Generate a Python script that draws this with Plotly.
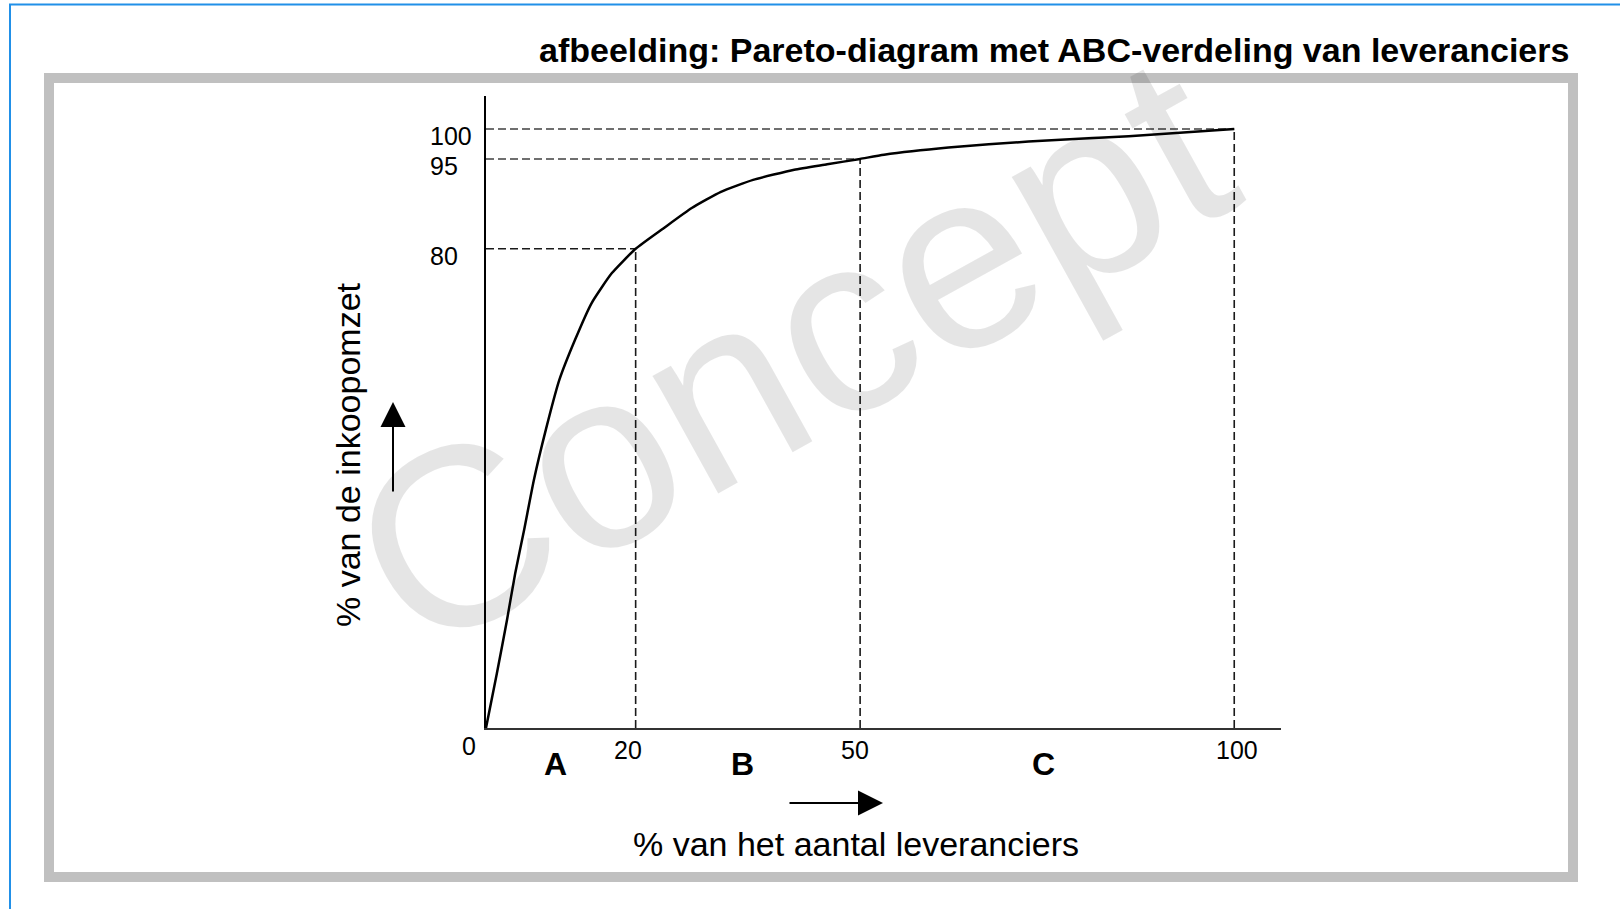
import plotly.graph_objects as go

# cumulative % of suppliers vs cumulative % of purchase turnover
suppliers_pct = [0, 1.45, 2.8, 3.9, 5.1, 6.4, 8.0, 9.8, 11.9, 14.1, 16.8, 20,
                 23.7, 27.5, 31.4, 35.7, 41.2, 45.6, 50, 53.2, 61.8, 72.5, 85.9, 100]
turnover_pct = [0, 9.1, 18.0, 25.8, 33.1, 41.4, 49.8, 58.1, 64.8, 70.9, 75.9, 80,
                83.4, 86.8, 89.5, 91.5, 93.2, 94.1, 95, 95.7, 96.9, 97.9, 98.8, 100]

# ABC class boundaries
class_x = [20, 50, 100]
class_y = [80, 95, 100]
class_names = ["A", "B", "C"]
class_label_x = [9.3, 34.3, 74.5]

x_ticks = [0, 20, 50, 100]
y_ticks = [100, 95, 80]

title = "afbeelding: Pareto-diagram met ABC-verdeling van leveranciers"
x_title = "% van het aantal leveranciers"
y_title = "% van de inkoopomzet"
watermark = "Concept"

W, H = 1620, 909
L, R, T, B = 486, 339, 96, 181
FONT = "Arial, Liberation Sans, sans-serif"


def px(x):
    return (x - L) / (W - L - R)


def py(y):
    return (H - B - y) / (H - T - B)


fig = go.Figure()

# guide lines at the class boundaries
h_colors = ["#1a1a1a", "#6f6f6f", "#6f6f6f"]
h_widths = [1.5, 2, 2]
for bx, by, hc, hw in zip(class_x, class_y, h_colors, h_widths):
    fig.add_trace(go.Scatter(x=[0, bx], y=[by, by], mode="lines",
                             line=dict(color=hc, width=hw, dash="8px,4px")))
    fig.add_trace(go.Scatter(x=[bx, bx], y=[0, by], mode="lines",
                             line=dict(color="#1a1a1a", width=1.6, dash="8px,4px")))

# Pareto curve
fig.add_trace(go.Scatter(x=suppliers_pct, y=turnover_pct, mode="lines",
                         line=dict(color="black", width=2.5, shape="spline", smoothing=0.5)))

ann = []

# watermark (semi-transparent so the lines show through)
ann.append(dict(text=watermark, xref="paper", yref="paper", x=px(790), y=py(352),
                showarrow=False, textangle=-29,
                font=dict(size=255, color="rgba(0,0,0,0.1)", family=FONT)))

ann.append(dict(text="<b>" + title + "</b>", xref="paper", yref="paper",
                x=px(1571), y=py(50), xanchor="right", yanchor="middle", showarrow=False,
                font=dict(size=34, color="black", family=FONT)))

for v in y_ticks:
    ann.append(dict(text=str(v), xref="paper", yref="y", x=0, y=v, xshift=-58,
                    yshift=-7, xanchor="left", yanchor="middle", showarrow=False,
                    font=dict(size=25)))

# pixel offsets of the x tick labels relative to their values
x_tick_shift = {0: (-17, -18), 20: (-8, -22), 50: (-5, -22), 100: (3, -22)}
for v in x_ticks:
    xs, ys = x_tick_shift[v]
    ann.append(dict(text=str(v), xref="x", yref="paper", x=v, y=0, xshift=xs, yshift=ys,
                    xanchor="center", yanchor="middle", showarrow=False,
                    font=dict(size=25)))

for name, lx in zip(class_names, class_label_x):
    ann.append(dict(text="<b>" + name + "</b>", xref="x", yref="paper", x=lx, y=0,
                    yshift=-36, xanchor="center", yanchor="middle", showarrow=False,
                    font=dict(size=32)))

ann.append(dict(text=x_title, xref="paper", yref="paper", x=px(856), y=py(844),
                xanchor="center", yanchor="middle", showarrow=False, font=dict(size=34)))
ann.append(dict(text=y_title, xref="paper", yref="paper", x=px(348), y=py(455),
                xanchor="center", yanchor="middle", showarrow=False, textangle=-90,
                font=dict(size=34)))

# direction arrows
ann.append(dict(text="", xref="paper", yref="paper", x=px(883), y=py(803),
                ax=-95, ay=0, showarrow=True, arrowhead=2, arrowsize=2.5, arrowwidth=2,
                arrowcolor="black"))
ann.append(dict(text="", xref="paper", yref="paper", x=px(393), y=py(402),
                ax=0, ay=91, showarrow=True, arrowhead=2, arrowsize=2.5, arrowwidth=2,
                arrowcolor="black"))

shapes = [
    # blue page frame
    dict(type="rect", xref="paper", yref="paper", x0=px(10), x1=px(1640),
         y0=py(4.5), y1=py(930), line=dict(color="#2190e8", width=2)),
    # grey figure frame
    dict(type="rect", xref="paper", yref="paper", x0=px(49), x1=px(1573),
         y0=py(78), y1=py(877), line=dict(color="#c0c0c0", width=10)),
]

fig.update_layout(
    width=W, height=H,
    margin=dict(l=L, r=R, t=T, b=B),
    paper_bgcolor="white", plot_bgcolor="white",
    font=dict(family=FONT, color="black"),
    showlegend=False,
    annotations=ann,
    shapes=shapes,
    xaxis=dict(range=[0, 106.25], showgrid=False, zeroline=False, showticklabels=False,
               showline=True, linecolor="#333333", linewidth=2, ticks=""),
    yaxis=dict(range=[0, 105.5], showgrid=False, zeroline=False, showticklabels=False,
               showline=True, linecolor="black", linewidth=1.5, ticks=""),
)

fig.write_html("out.html", config={"displayModeBar": False},
               post_script="document.body.style.margin = '0';")
